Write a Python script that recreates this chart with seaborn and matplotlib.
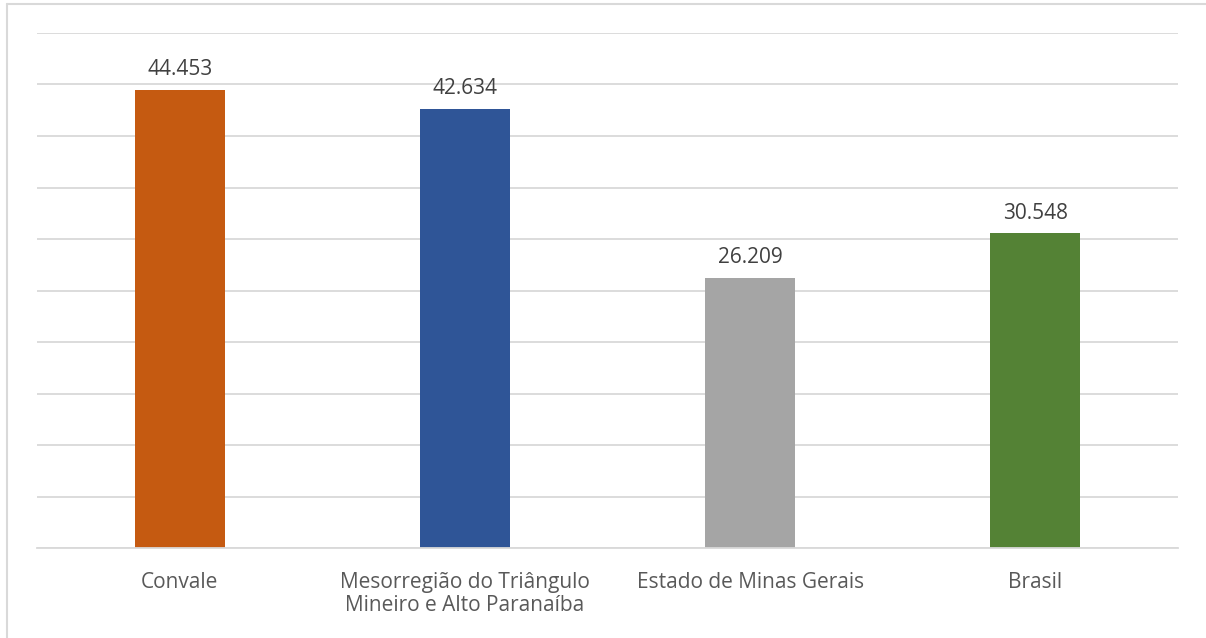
import matplotlib
matplotlib.use("Agg")
import matplotlib.pyplot as plt
import seaborn as sns
import pandas as pd
from matplotlib.lines import Line2D

categories = ["Convale", "Mesorregião do Triângulo\nMineiro e Alto Paranaíba",
              "Estado de Minas Gerais", "Brasil"]
values = [44.453, 42.634, 26.209, 30.548]
labels = ["44.453", "42.634", "26.209", "30.548"]
colors = ["#C55A11", "#2F5597", "#A5A5A5", "#548235"]

sns.set_theme(style="white")
plt.rcParams['font.family'] = ['Open Sans', 'DejaVu Sans']

df = pd.DataFrame({"cat": categories, "val": values})

fig = plt.figure(figsize=(12.06, 6.38), dpi=100)
ax = fig.add_axes([37/1206, 1-548/638, (1178-37)/1206, (548-33)/638])

sns.barplot(data=df, x="cat", y="val", hue="cat", palette=colors,
            width=0.315, legend=False, ax=ax, saturation=1, linewidth=0)

ax.set_ylim(0, 50)
ax.set_yticks(range(0, 51, 5))
ax.set_yticklabels([])
ax.tick_params(axis='y', length=0)
ax.grid(axis='y', color="#D9D9D9", linewidth=1.3)
ax.set_axisbelow(True)
for s in ["top", "right", "left"]:
    ax.spines[s].set_visible(False)
ax.spines["bottom"].set_color("#D9D9D9")
ax.spines["bottom"].set_linewidth(1.3)
ax.set_xlabel("")
ax.set_ylabel("")
ax.tick_params(axis='x', length=0, pad=17, labelsize=15, labelcolor="#595959")
for lbl in ax.get_xticklabels():
    lbl.set_linespacing(1.18)

for cont, lab in zip(ax.containers, labels):
    ax.bar_label(cont, labels=[lab], padding=7, fontsize=15, color="#404040")

fig.add_artist(Line2D([7/1206, 1], [1-4/638, 1-4/638], color="#D9D9D9", linewidth=1.5))
fig.add_artist(Line2D([7/1206, 7/1206], [0, 1-4/638], color="#D9D9D9", linewidth=1.5))

fig.savefig("out.png", dpi=100)
